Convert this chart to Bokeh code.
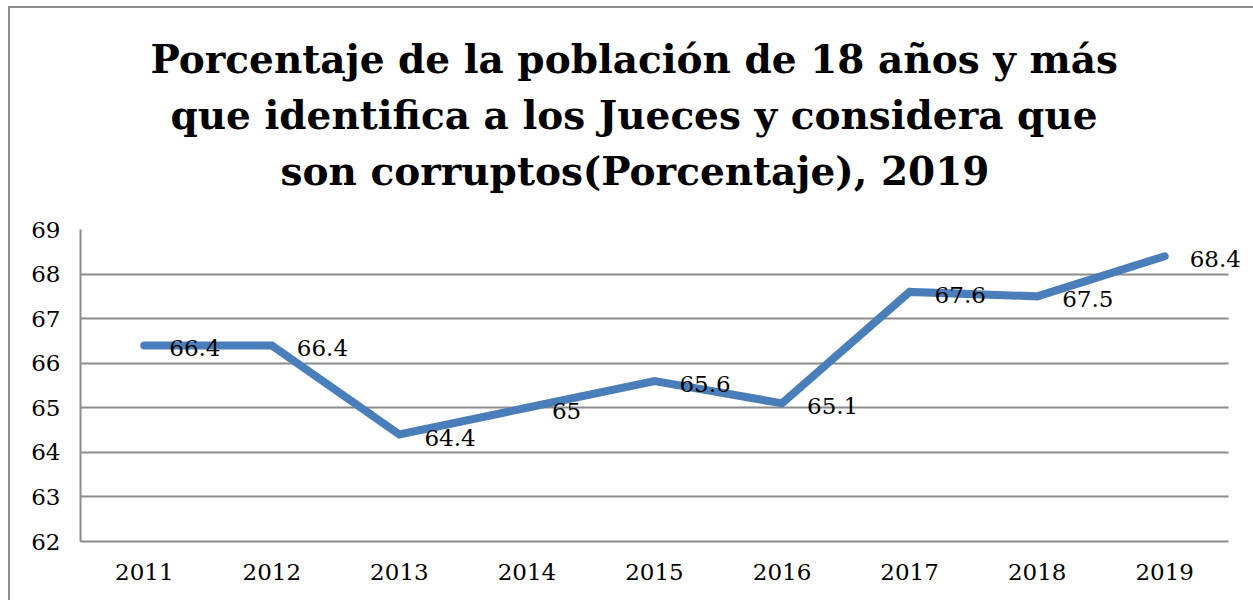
from bokeh.plotting import figure
from bokeh.models import Range1d, FixedTicker, ColumnDataSource, Title, LabelSet, BoxAnnotation
from bokeh.core.properties import value
from bokeh.embed import file_html
from bokeh.resources import INLINE

years = ["2011", "2012", "2013", "2014", "2015", "2016", "2017", "2018", "2019"]
values = [66.4, 66.4, 64.4, 65.0, 65.6, 65.1, 67.6, 67.5, 68.4]
labels = ["66.4", "66.4", "64.4", "65", "65.6", "65.1", "67.6", "67.5", "68.4"]
title_lines = [
    "Porcentaje de la población de 18 años y más",
    "que identifica a los Jueces y considera que",
    "son corruptos(Porcentaje), 2019",
]
y_ticks = [62, 63, 64, 65, 66, 67, 68, 69]

SERIF = "DejaVu Serif"
GRID = "#8c8c8c"

idx = list(range(len(years)))
src = ColumnDataSource(dict(x=idx, y=values, t=labels))

# category slots span -0.5 .. n-0.5; a little extra room on the right keeps the last label visible
x_end = len(years) - 0.5
p = figure(width=1253, height=600, x_range=Range1d(-0.5, x_end + 0.196),
           y_range=Range1d(62, 69), output_backend="svg", toolbar_location=None,
           min_border_left=80, min_border_right=0, min_border_bottom=59, min_border_top=229)
p.title = None
p.outline_line_color = None
p.border_fill_color = None
p.styles = {
    "background": "linear-gradient(#8f8f8f, #8f8f8f) 8px 6px / 2px 100% no-repeat, "
                  "linear-gradient(#8f8f8f, #8f8f8f) 8px 6px / 100% 2px no-repeat, #ffffff"
}

# spacer between the title block and the plot frame
p.add_layout(Title(text=" ", text_font_size="1px", standoff=29), "above")
title_offsets = [70, 90, 200]
for line, off in reversed(list(zip(title_lines, title_offsets))):
    p.add_layout(Title(text=line, align="left", offset=off, text_font=SERIF,
                       text_font_style="bold", text_font_size="39px", text_color="#000000",
                       standoff=8), "above")

p.line("x", "y", source=src, line_color="#4A7EBB", line_width=8, line_cap="round", line_join="miter")

# hide the grid beyond the last category slot
p.add_layout(BoxAnnotation(left=x_end, fill_color="#ffffff", fill_alpha=1.0, line_color=None,
                           level="underlay"))

p.add_layout(LabelSet(x="x", y="y", text="t", source=src, x_offset=25, y_offset=-3,
                      text_align="left", text_baseline="middle", text_font=value(SERIF),
                      text_font_size=value("23px"), text_color=value("#000000")))

p.xaxis.ticker = FixedTicker(ticks=idx)
p.xaxis.major_label_overrides = {i: y for i, y in zip(idx, years)}
p.xaxis.bounds = (-0.5, x_end)
p.yaxis.ticker = FixedTicker(ticks=y_ticks)
p.ygrid.ticker = FixedTicker(ticks=y_ticks)
p.ygrid.grid_line_color = GRID
p.ygrid.grid_line_width = 2
p.xgrid.grid_line_color = None

for ax in (p.xaxis[0], p.yaxis[0]):
    ax.axis_line_color = GRID
    ax.axis_line_width = 2
    ax.major_tick_line_color = None
    ax.minor_tick_line_color = None
    ax.major_tick_out = 0
    ax.major_tick_in = 0
    ax.major_label_text_font = SERIF
    ax.major_label_text_font_size = "23px"
    ax.major_label_text_color = "#000000"
p.yaxis.major_label_standoff = 20
p.xaxis.major_label_standoff = 22

open("out.html", "w").write(file_html(p, INLINE))
